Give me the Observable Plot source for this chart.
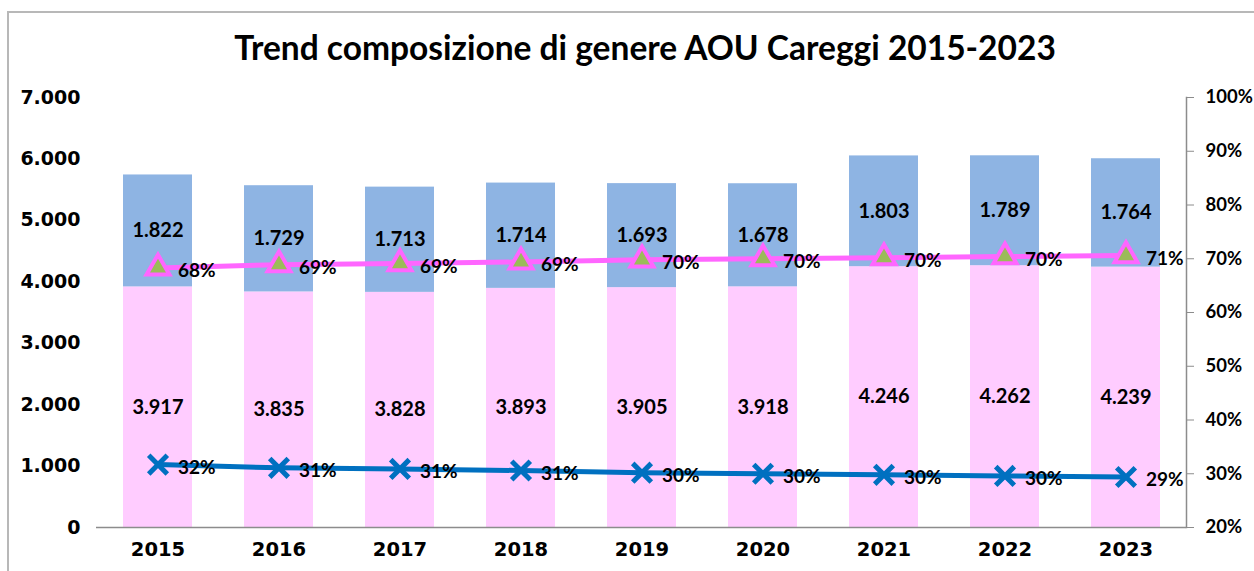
<!DOCTYPE html>
<html><head><meta charset="utf-8">
<script src="https://cdn.jsdelivr.net/npm/d3@7"></script>
<script src="https://cdn.jsdelivr.net/npm/@observablehq/plot@0.6"></script>
<style>
html,body{margin:0;padding:0;background:#fff;width:1254px;height:571px;overflow:hidden;}
#frame{position:absolute;left:7px;top:11px;width:1300px;height:620px;border-left:2px solid #b8b8b8;border-top:2px solid #b8b8b8;}
#title{position:absolute;left:0;top:27px;width:1290px;text-align:center;font-family:Lato,"Open Sans",sans-serif;font-weight:bold;font-size:33.5px;color:#000;}
#chart{position:absolute;left:0;top:75px;}
</style></head>
<body>
<div id="frame"></div>
<div id="title">Trend composizione di genere AOU Careggi 2015-2023</div>
<div id="chart"></div>
<script>
const years = ["2015","2016","2017","2018","2019","2020","2021","2022","2023"];
const women = [3917,3835,3828,3893,3905,3918,4246,4262,4239];
const men = [1822,1729,1713,1714,1693,1678,1803,1789,1764];
const womenPct = [68.3,68.9,69.1,69.4,69.8,70.0,70.2,70.4,70.6];
const menPct = [31.7,31.1,30.9,30.6,30.2,30.0,29.8,29.6,29.4];
const womenPctLabels = ["68%","69%","69%","69%","70%","70%","70%","70%","71%"];
const menPctLabels = ["32%","31%","31%","31%","30%","30%","30%","30%","29%"];
const leftTicks = [0,1000,2000,3000,4000,5000,6000,7000];
const rightTicks = [20,30,40,50,60,70,80,90,100];

const YMAX = 7000, PMIN = 20, PMAX = 100;
const toLeft = p => (p - PMIN) / (PMAX - PMIN) * YMAX;
const fmtIt = v => d3.format(",")(v).replace(/,/g, ".");

const bars = [];
years.forEach((y,i) => {
  bars.push({year:y, sex:"F", value:women[i]});
  bars.push({year:y, sex:"M", value:men[i]});
});
const wLine = years.map((y,i)=>({year:y, v:toLeft(womenPct[i]), label:womenPctLabels[i]}));
const mLine = years.map((y,i)=>({year:y, v:toLeft(menPct[i]), label:menPctLabels[i]}));

const labelFont = "Lato, 'Open Sans', sans-serif";
const axisFont = "'DejaVu Sans', Verdana, sans-serif";

const chart = Plot.plot({
  width: 1254,
  height: 496,
  marginTop: 22,
  marginBottom: 44,
  marginLeft: 96,
  marginRight: 68,
  style: {fontFamily: axisFont, background: "transparent"},
  x: {domain: years, paddingInner: 0.43, paddingOuter: 0.215, label: null},
  y: {domain: [0, YMAX], label: null},
  color: {domain: ["F","M"], range: ["#FFCCFF","#8EB4E3"]},
  marks: [
    Plot.barY(bars, {x:"year", y:"value", fill:"sex", z:"sex", order:["F","M"]}),
    Plot.ruleY([0], {stroke:"#8c8c8c", strokeWidth:1.5}),
    Plot.axisY(leftTicks, {anchor:"left", tickSize:0, tickPadding:16, tickFormat: fmtIt,
      fontSize:19, fontWeight:"bold", fill:"#000"}),
    Plot.axisX({tickSize:0, tickPadding:15, fontSize:19.5, fontWeight:"bold", fill:"#000"}),
    Plot.axisY(rightTicks.map(toLeft), {anchor:"right", tickSize:7, tickPadding:12,
      tickFormat: v => Math.round(v / YMAX * (PMAX-PMIN) + PMIN) + "%",
      fontSize:18.5, fontWeight:"bold", fontFamily: labelFont, fill:"#000", stroke:"#8c8c8c"}),
    Plot.frame({anchor:"right", stroke:"#8c8c8c", strokeWidth:1.5}),
    Plot.text(bars, Plot.stackY({x:"year", y:"value", z:"sex", order:["F","M"], text: d => fmtIt(d.value),
      fontSize:20, fontWeight:"bold", fontFamily: labelFont, fill:"#000"})),
    Plot.line(wLine, {x:"year", y:"v", stroke:"#FF66FF", strokeWidth:5}),
    Plot.line(mLine, {x:"year", y:"v", stroke:"#0070C0", strokeWidth:5}),
    Plot.dot(wLine, {x:"year", y:"v", symbol:"triangle", r:8.5, fill:"#9BBB59", stroke:"#FF66FF", strokeWidth:4}),
    Plot.dot(mLine, {x:"year", y:"v", symbol:"times", r:8.5, stroke:"#0070C0", strokeWidth:5}),
    Plot.text(wLine, {x:"year", y:"v", text:"label", dx:20, dy:3, textAnchor:"start",
      fontSize:19, fontWeight:"bold", fontFamily: labelFont, fill:"#000"}),
    Plot.text(mLine, {x:"year", y:"v", text:"label", dx:20, dy:3, textAnchor:"start",
      fontSize:19, fontWeight:"bold", fontFamily: labelFont, fill:"#000"})
  ]
});
document.getElementById("chart").appendChild(chart);
</script>
</body></html>
